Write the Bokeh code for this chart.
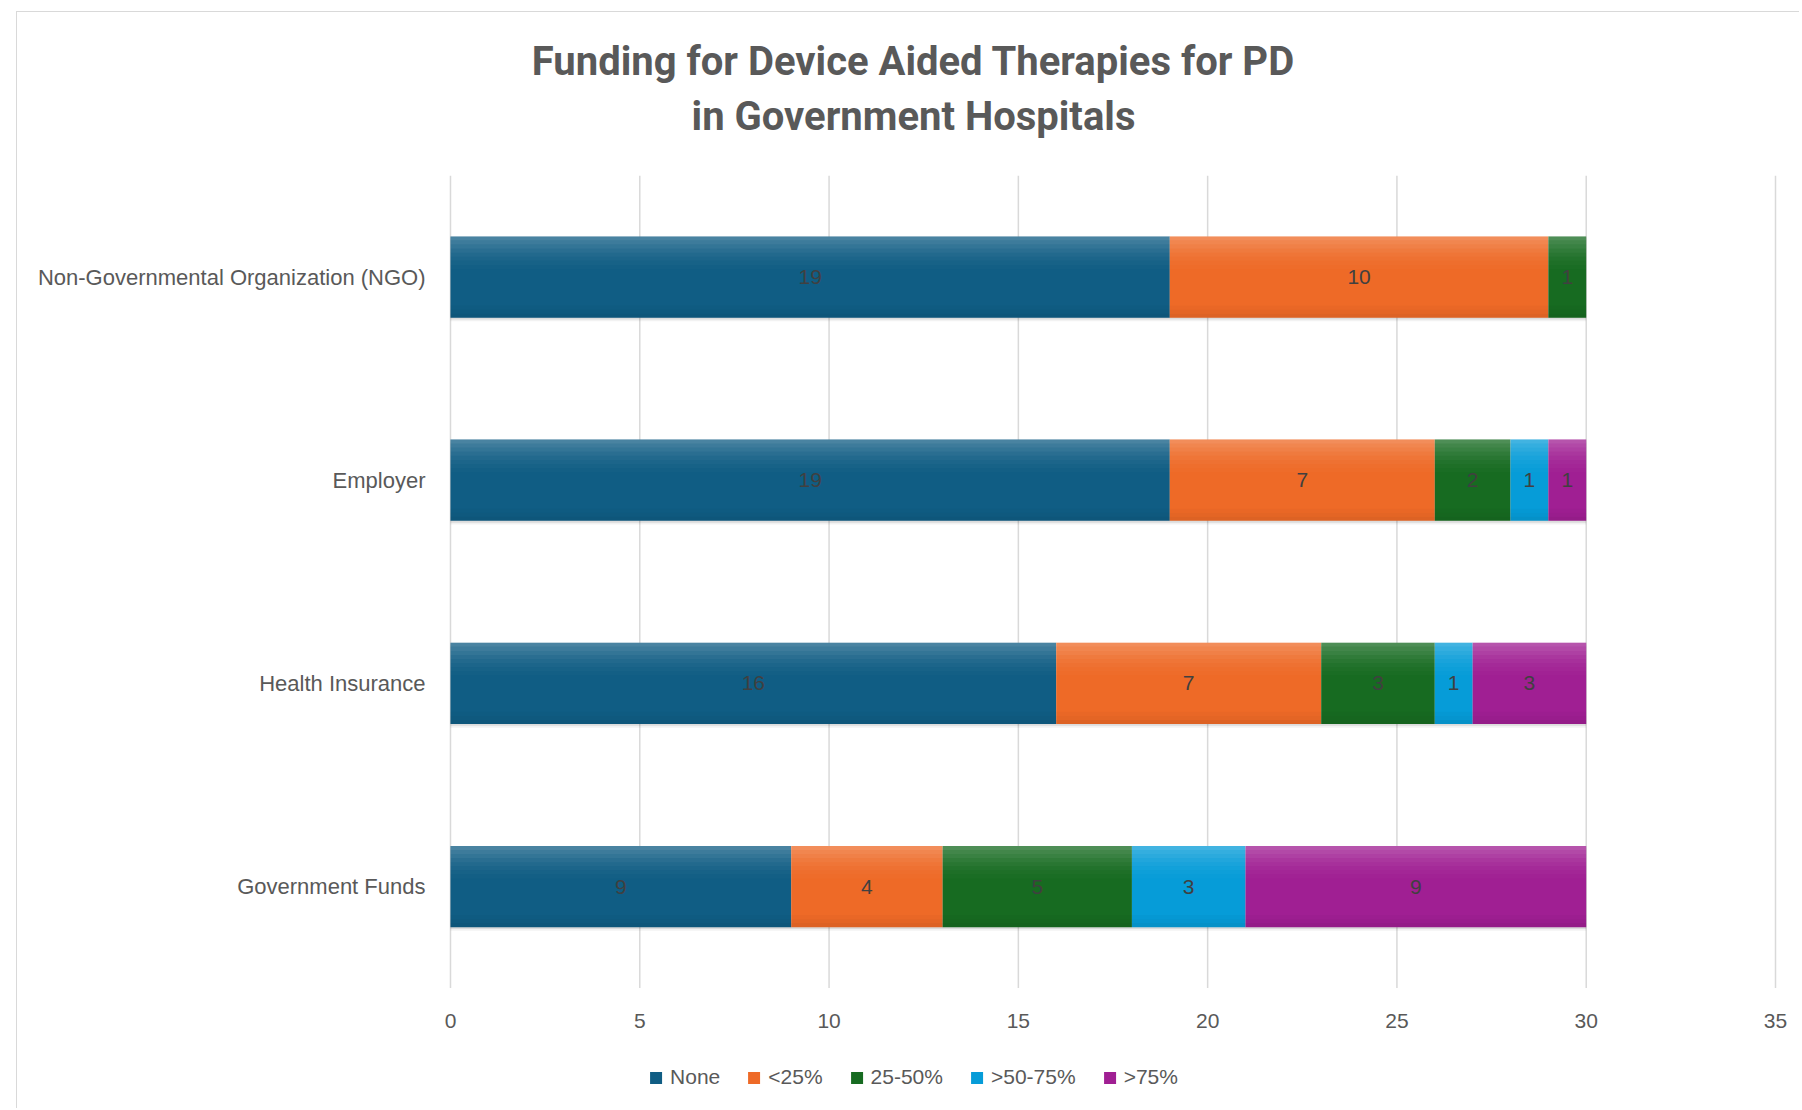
from bokeh.plotting import figure
from bokeh.models import Range1d, FixedTicker, Title, Legend, LegendItem, ColumnDataSource
from bokeh.transform import dodge
from bokeh.core.properties import value
from bokeh.embed import file_html
from bokeh.resources import INLINE
import numpy as np

categories = ["Government Funds", "Health Insurance", "Employer", "Non-Governmental Organization (NGO)"]
series = ["None", "<25%", "25-50%", ">50-75%", ">75%"]
val_none = [9, 16, 19, 19]
val_lt25 = [4, 7, 7, 10]
val_25_50 = [5, 3, 2, 1]
val_50_75 = [3, 1, 1, 0]
val_gt75 = [9, 3, 1, 0]
x_ticks = [0, 5, 10, 15, 20, 25, 30, 35]

colors = ["#105d84", "#ee6a27", "#176b21", "#069cd8", "#a01f93"]
keys = ["s0", "s1", "s2", "s3", "s4"]
values = [val_none, val_lt25, val_25_50, val_50_75, val_gt75]

arr = np.array(values, dtype=float)
cum = np.cumsum(arr, axis=0)
totals = cum[-1]
ncat = len(categories)
ypos = np.arange(ncat) + 0.5          # band centres of the category axis

data = {"y": ypos, "total": totals, "zero": [0] * ncat}
for k, v in zip(keys, values):
    data[k] = v
src = ColumnDataSource(data)

TXT = "#595959"
FONT = "Liberation Sans"
BAR_H = 0.4

# frame spans the chart; the axes are pinned at x = 0 and y = 0, the legend sits in the lower strip
p = figure(width=1783, height=1097, y_range=Range1d(-0.5877, ncat),
           x_range=Range1d(-11.147, 35.6075), output_backend="svg", toolbar_location=None,
           min_border_left=11, min_border_right=2, min_border_top=10, min_border_bottom=2)
p.styles = {"border-left": "1px solid #d9d9d9", "border-top": "1px solid #d9d9d9",
            "margin-left": "16px", "margin-top": "11px"}
p.outline_line_color = None
p.background_fill_color = "white"
p.border_fill_color = "white"
p.xgrid.grid_line_color = None
p.ygrid.grid_line_color = None

# vertical gridlines at the value ticks, over the category bands
p.segment(x0=x_ticks, y0=[0] * len(x_ticks), x1=x_ticks, y1=[ncat] * len(x_ticks),
          line_color="#d9d9d9", line_width=1.5)

# soft drop shadow under each stacked bar
p.hbar(y=dodge("y", -0.018), left="zero", right="total", height=BAR_H,
       source=src, fill_color="black", fill_alpha=0.05, line_color=None)
p.hbar(y=dodge("y", -0.009), left="zero", right="total", height=BAR_H,
       source=src, fill_color="black", fill_alpha=0.09, line_color=None)

renderers = p.hbar_stack(keys, y="y", height=BAR_H, color=colors, source=src, line_color=None)

# subtle vertical gradient overlays (lighter top, slightly darker bottom)
top_alphas = [0.24, 0.19, 0.15, 0.11, 0.08, 0.05, 0.03, 0.015]
for k, a in enumerate(top_alphas):
    p.hbar(y=dodge("y", BAR_H / 2 - 0.01 - 0.02 * k), left="zero", right="total",
           height=0.02, source=src, fill_color="white", fill_alpha=a, line_color=None)
for k, a in enumerate([0.07, 0.04, 0.02]):
    p.hbar(y=dodge("y", -BAR_H / 2 + 0.01 + 0.02 * k), left="zero", right="total",
           height=0.02, source=src, fill_color="black", fill_alpha=a, line_color=None)

# data labels
lx, ly, lt = [], [], []
for i in range(len(series)):
    for j in range(ncat):
        v = arr[i, j]
        if v > 0:
            lx.append(cum[i, j] - v / 2)
            ly.append(ypos[j])
            lt.append(str(int(v)))
p.text(x=lx, y=ly, text=lt, text_align="center", text_baseline="middle",
       text_font=value(FONT), text_font_size="21px", text_color="#404040")

# axes
p.xaxis.fixed_location = 0
p.xaxis.ticker = FixedTicker(ticks=x_ticks)
p.xaxis.axis_line_color = None
p.xaxis.major_tick_line_color = None
p.xaxis.minor_tick_line_color = None
p.xaxis.major_label_text_font = FONT
p.xaxis.major_label_text_font_size = "21px"
p.xaxis.major_label_text_color = TXT
p.xaxis.major_label_standoff = 20
p.yaxis.fixed_location = 0
p.yaxis.ticker = FixedTicker(ticks=list(ypos))
p.yaxis.major_label_overrides = {float(y): c for y, c in zip(ypos, categories)}
p.yaxis.axis_line_color = None
p.yaxis.major_tick_line_color = None
p.yaxis.minor_tick_line_color = None
p.yaxis.major_label_text_font = FONT
p.yaxis.major_label_text_font_size = "22px"
p.yaxis.major_label_text_color = TXT
p.yaxis.major_label_standoff = 19

# titles (added closest-first)
p.add_layout(Title(text=" ", text_font_size="20px"), "above")
p.add_layout(Title(text="in Government Hospitals", align="center", text_font="Roboto",
                   standoff=3, text_font_style="bold", text_font_size="40px", text_color=TXT), "above")
p.add_layout(Title(text="Funding for Device Aided Therapies for PD", align="center", text_font="Roboto",
                   text_font_style="bold", text_font_size="40px", text_color=TXT), "above")
p.add_layout(Title(text=" ", text_font_size="6px"), "above")

legend = Legend(items=[LegendItem(label=s, renderers=[r]) for s, r in zip(series, renderers)],
                orientation="horizontal", location="bottom_center", label_text_font=FONT,
                label_text_font_size="21px", label_text_color=TXT, glyph_width=15, glyph_height=15,
                spacing=26, label_standoff=7, padding=0, margin=18,
                border_line_color=None, background_fill_alpha=0)
p.add_layout(legend, "center")

open("out.html", "w").write(file_html(p, INLINE))
